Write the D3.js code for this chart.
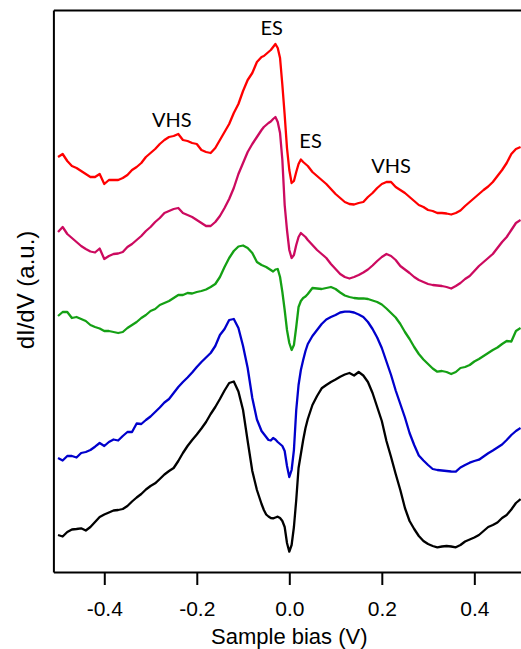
<!DOCTYPE html>
<html>
<head>
<meta charset="utf-8">
<script src="https://cdn.jsdelivr.net/npm/d3@7"></script>
<style>
  body { margin: 0; background: #fff; }
  svg { display: block; }
  .axis path, .axis line { stroke: #000; stroke-width: 2px; }
  .axis text { font-family: "Liberation Sans", Arial, sans-serif; font-size: 21px; fill: #000; }
</style>
</head>
<body>
<div class="chart"></div>
<script>
// sample bias (V), finer steps around zero bias
var bias = [-0.50,-0.49,-0.48,-0.47,-0.46,-0.45,-0.44,-0.43,-0.42,-0.41,
  -0.40,-0.39,-0.38,-0.37,-0.36,-0.35,-0.34,-0.33,-0.32,-0.31,
  -0.30,-0.29,-0.28,-0.27,-0.26,-0.25,-0.24,-0.23,-0.22,-0.21,
  -0.20,-0.19,-0.18,-0.17,-0.16,-0.15,-0.14,-0.13,-0.12,-0.11,
  -0.10,-0.09,-0.08,-0.07,-0.06,
  -0.055,-0.05,-0.045,-0.04,-0.035,-0.03,-0.025,-0.02,-0.015,-0.01,
  -0.005,0,0.005,0.01,0.015,0.02,0.025,0.03,0.035,0.04,
  0.05,0.06,0.07,0.08,0.09,0.10,0.11,0.12,0.13,0.14,
  0.15,0.16,0.17,0.18,0.19,0.20,0.21,0.22,0.23,0.24,
  0.25,0.26,0.27,0.28,0.29,0.30,0.31,0.32,0.33,0.34,
  0.35,0.36,0.37,0.38,0.39,0.40,0.41,0.42,0.43,0.44,
  0.45,0.46,0.47,0.48,0.49,0.50];

// dI/dV (a.u., curves offset vertically)
var redCurve = [4.15,4.18,4.11,4.06,4.04,4.01,3.98,3.95,3.95,3.98,
  3.88,3.92,3.92,3.92,3.94,3.97,4.02,4.05,4.09,4.15,
  4.19,4.23,4.28,4.32,4.35,4.36,4.38,4.32,4.31,4.29,
  4.28,4.22,4.20,4.19,4.24,4.32,4.40,4.48,4.59,4.68,
  4.81,4.92,4.99,5.10,5.15,
  5.16,5.18,5.20,5.22,5.25,5.28,5.24,5.14,4.87,4.57,
  4.24,4.02,3.89,3.91,4.00,4.08,4.125,4.10,4.08,4.06,
  4.00,3.96,3.92,3.88,3.83,3.78,3.74,3.70,3.68,3.675,
  3.69,3.70,3.75,3.79,3.84,3.88,3.90,3.90,3.85,3.82,
  3.79,3.75,3.71,3.67,3.65,3.62,3.61,3.59,3.59,3.585,
  3.575,3.59,3.615,3.66,3.70,3.74,3.78,3.82,3.855,3.90,
  3.96,4.02,4.09,4.18,4.23,4.25];

var magentaCurve = [3.40,3.45,3.38,3.34,3.30,3.26,3.23,3.205,3.195,3.235,
  3.13,3.16,3.18,3.185,3.20,3.25,3.28,3.32,3.36,3.41,
  3.45,3.50,3.54,3.59,3.61,3.63,3.64,3.59,3.57,3.55,
  3.52,3.49,3.46,3.46,3.50,3.56,3.64,3.73,3.84,3.98,
  4.09,4.20,4.28,4.35,4.42,
  4.45,4.47,4.49,4.505,4.53,4.55,4.50,4.39,4.12,3.67,
  3.42,3.22,3.14,3.17,3.27,3.35,3.39,3.37,3.35,3.32,
  3.27,3.22,3.18,3.14,3.08,3.03,2.98,2.95,2.935,2.95,
  2.97,2.995,3.025,3.065,3.11,3.15,3.18,3.16,3.12,3.06,
  3.025,2.99,2.95,2.92,2.90,2.88,2.87,2.865,2.86,2.85,
  2.835,2.86,2.89,2.93,2.96,3.01,3.06,3.10,3.14,3.18,
  3.24,3.30,3.35,3.42,3.49,3.52];

var greenCurve = [2.56,2.60,2.60,2.54,2.55,2.53,2.51,2.47,2.45,2.435,
  2.41,2.41,2.40,2.39,2.40,2.44,2.47,2.50,2.54,2.57,
  2.61,2.63,2.67,2.69,2.71,2.74,2.77,2.77,2.79,2.785,
  2.80,2.81,2.825,2.85,2.88,2.95,3.05,3.14,3.21,3.255,
  3.265,3.24,3.19,3.10,3.07,
  3.06,3.05,3.035,3.02,3.005,3.025,3.03,2.95,2.80,2.62,
  2.42,2.29,2.22,2.27,2.45,2.65,2.71,2.74,2.755,2.78,
  2.84,2.835,2.83,2.84,2.85,2.83,2.795,2.765,2.75,2.74,
  2.735,2.737,2.73,2.715,2.70,2.675,2.635,2.59,2.545,2.48,
  2.40,2.33,2.25,2.18,2.125,2.08,2.035,2.003,2.01,2.00,
  1.98,2.00,2.04,2.05,2.07,2.105,2.13,2.16,2.19,2.22,
  2.245,2.28,2.31,2.305,2.41,2.44];

var blueCurve = [1.14,1.115,1.16,1.16,1.145,1.19,1.20,1.22,1.253,1.29,
  1.26,1.30,1.325,1.315,1.36,1.40,1.40,1.485,1.48,1.52,
  1.555,1.60,1.645,1.695,1.73,1.79,1.85,1.90,1.945,1.995,
  2.05,2.10,2.145,2.19,2.26,2.37,2.43,2.52,2.53,2.44,
  2.26,2.04,1.74,1.525,1.41,
  1.38,1.35,1.32,1.315,1.34,1.325,1.30,1.28,1.26,1.21,
  1.06,0.95,1.02,1.22,1.62,1.87,2.02,2.12,2.21,2.28,
  2.36,2.42,2.48,2.525,2.55,2.57,2.595,2.603,2.603,2.595,
  2.575,2.55,2.50,2.43,2.345,2.24,2.105,1.97,1.815,1.68,
  1.545,1.39,1.27,1.165,1.115,1.07,1.03,1.02,1.015,1.01,
  1.005,1.003,1.045,1.07,1.093,1.11,1.123,1.155,1.187,1.215,
  1.245,1.275,1.32,1.37,1.41,1.44];

var blackCurve = [0.37,0.355,0.40,0.425,0.43,0.437,0.415,0.45,0.50,0.55,
  0.575,0.595,0.615,0.62,0.63,0.66,0.705,0.745,0.78,0.825,
  0.86,0.887,0.93,0.975,1.01,1.04,1.11,1.19,1.26,1.32,
  1.375,1.435,1.50,1.58,1.65,1.73,1.815,1.89,1.905,1.805,
  1.62,1.31,1.01,0.82,0.68,
  0.62,0.575,0.555,0.54,0.537,0.545,0.553,0.54,0.51,0.45,
  0.29,0.203,0.27,0.45,0.72,1.04,1.18,1.32,1.44,1.53,
  1.67,1.76,1.837,1.87,1.90,1.925,1.953,1.975,1.99,1.965,
  2.00,1.965,1.90,1.79,1.65,1.51,1.31,1.15,0.98,0.82,
  0.64,0.51,0.43,0.36,0.31,0.28,0.26,0.247,0.255,0.26,
  0.255,0.247,0.27,0.305,0.325,0.345,0.37,0.41,0.45,0.47,
  0.495,0.54,0.57,0.625,0.69,0.73];

var xTicks = [-0.4, -0.2, 0.0, 0.2, 0.4];

// peak labels
var labelText = ["ES", "VHS", "ES", "VHS"];
var labelBias = [-0.038, -0.254, 0.046, 0.22];
var labelLevel = [5.37, 4.45, 4.24, 3.99];

var series = [
  {values: redCurve, color: "#ff0000"},
  {values: magentaCurve, color: "#cc0a5f"},
  {values: greenCurve, color: "#14a014"},
  {values: blueCurve, color: "#0000cc"},
  {values: blackCurve, color: "#000000"}
];

var width = 521;
var height = 649;

var xScale = d3.scaleLinear()
  .domain([-0.51, 0.51])
  .range([53.4, 525.2]);

var yScale = d3.scaleLinear()
  .domain([0, 5.62])
  .range([572, 10]);

var canvas = d3.select(".chart").append("svg")
  .attr("width", width)
  .attr("height", height);

var line = d3.line()
  .x(function(d, i){ return xScale(bias[i]); })
  .y(function(d){ return yScale(d); });

canvas.selectAll("path.curve")
  .data(series)
  .enter()
  .append("path")
  .attr("class", "curve")
  .attr("d", function(s){ return line(s.values); })
  .attr("fill", "none")
  .attr("stroke", function(s){ return s.color; })
  .attr("stroke-width", 2.3)
  .attr("stroke-linejoin", "round");

// axes: bottom with ticks, plain left and top frame lines
canvas.append("g")
  .attr("class", "x axis")
  .attr("transform", "translate(0," + yScale(0) + ")")
  .call(d3.axisBottom(xScale)
    .tickValues(xTicks)
    .tickFormat(function(d){ return d.toFixed(1); })
    .tickSize(13)
    .tickSizeOuter(0)
    .tickPadding(16));

canvas.append("g")
  .attr("class", "y axis")
  .attr("transform", "translate(" + xScale(-0.51) + ",0)")
  .call(d3.axisLeft(yScale).tickValues([]).tickSizeOuter(0));

canvas.append("g")
  .attr("class", "axis")
  .attr("transform", "translate(0," + yScale(5.62) + ")")
  .call(d3.axisTop(xScale).tickValues([]).tickSizeOuter(0));

canvas.append("text")
  .text("Sample bias (V)")
  .attr("x", xScale(0))
  .attr("y", 644)
  .attr("text-anchor", "middle")
  .style("font-family", "Liberation Sans, Arial, sans-serif")
  .style("font-size", "22px");

canvas.append("text")
  .text("dI/dV (a.u.)")
  .attr("transform", "translate(34,290) rotate(-90)")
  .attr("text-anchor", "middle")
  .style("font-family", "Liberation Sans, Arial, sans-serif")
  .style("font-size", "24px");

canvas.selectAll("text.peak")
  .data(labelText)
  .enter()
  .append("text")
  .attr("class", "peak")
  .text(function(d){ return d; })
  .attr("x", function(d, i){ return xScale(labelBias[i]); })
  .attr("y", function(d, i){ return yScale(labelLevel[i]); })
  .attr("text-anchor", "middle")
  .style("font-family", "Lato, 'Open Sans', sans-serif")
  .style("font-size", "20px");
</script>
</body>
</html>
